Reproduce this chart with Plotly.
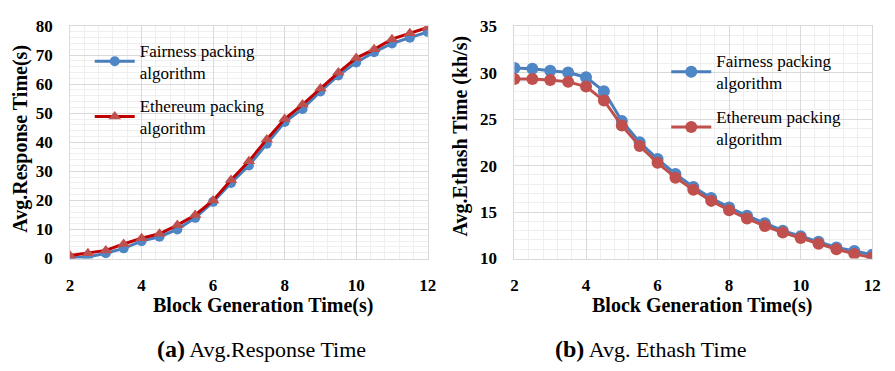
import plotly.graph_objects as go

x_vals = [2, 2.5, 3, 3.5, 4, 4.5, 5, 5.5, 6, 6.5, 7, 7.5, 8, 8.5, 9, 9.5, 10, 10.5, 11, 11.5, 12]

resp_fair = [0.3, 0.5, 1.8, 3.5, 6.0, 7.5, 10.0, 14.0, 19.5, 26.0, 32.0, 39.5, 47.0, 51.5, 57.5, 63.0, 67.5, 71.0, 74.0, 76.0, 78.0]
resp_eth = [1.0, 1.8, 2.8, 5.0, 7.0, 8.5, 11.5, 15.0, 20.0, 27.0, 33.5, 41.0, 48.0, 53.0, 58.5, 64.0, 69.0, 72.0, 75.5, 77.5, 79.5]

hash_fair = [30.5, 30.4, 30.2, 30.0, 29.5, 28.0, 24.8, 22.5, 20.7, 19.1, 17.7, 16.5, 15.5, 14.6, 13.8, 13.0, 12.4, 11.8, 11.2, 10.8, 10.4]
hash_eth = [29.3, 29.3, 29.2, 29.0, 28.5, 27.0, 24.3, 22.1, 20.3, 18.7, 17.4, 16.2, 15.2, 14.3, 13.5, 12.8, 12.2, 11.6, 11.0, 10.5, 10.1]

name_fair = "Fairness packing<br>algorithm"
name_eth = "Ethereum packing<br>algorithm"

BLUE_LINE = "#4A7EBB"
BLUE_MK = "#4F86C6"
DRED = "#C00000"
RED = "#C0504D"
FONT = "Liberation Serif, Times New Roman, serif"

fig = go.Figure()
fig.add_trace(go.Scatter(x=x_vals, y=resp_fair, name=name_fair, mode="lines+markers",
                         line=dict(color=BLUE_LINE, width=3),
                         marker=dict(symbol="circle", size=10, color=BLUE_MK),
                         xaxis="x", yaxis="y", legend="legend", legendgroup="a1"))
fig.add_trace(go.Scatter(x=x_vals, y=resp_eth, name=name_eth, mode="lines+markers",
                         line=dict(color=DRED, width=3),
                         marker=dict(symbol="triangle-up", size=11, color=RED),
                         xaxis="x", yaxis="y", legend="legend", legendgroup="a2"))
fig.add_trace(go.Scatter(x=x_vals, y=hash_fair, name=name_fair, mode="lines+markers",
                         line=dict(color=BLUE_LINE, width=3),
                         marker=dict(symbol="circle", size=12, color=BLUE_MK),
                         xaxis="x2", yaxis="y2", legend="legend2", legendgroup="b1"))
fig.add_trace(go.Scatter(x=x_vals, y=hash_eth, name=name_eth, mode="lines+markers",
                         line=dict(color=RED, width=3),
                         marker=dict(symbol="circle", size=12, color=RED),
                         xaxis="x2", yaxis="y2", legend="legend2", legendgroup="b2"))

W, H = 895, 371


def px(sx):
    return sx / W


def py(sy):
    return 1 - sy / H


tickfont = dict(family=FONT, size=17, color="black", weight="bold")

common_x = dict(range=[2, 12], tick0=2, dtick=2, showgrid=True, gridcolor="#d9d9d9", gridwidth=1,
                minor=dict(dtick=0.4, tick0=2, showgrid=True, gridcolor="#efefef", gridwidth=1),
                showline=True, linecolor="#d9d9d9", mirror=True, zeroline=False,
                tickfont=tickfont, ticks="", ticklabelstandoff=11)
common_y = dict(showgrid=True, gridcolor="#d9d9d9", gridwidth=1,
                showline=True, linecolor="#d9d9d9", mirror=True, zeroline=False,
                tickfont=tickfont, ticks="", ticklabelstandoff=13)

legfont = dict(family=FONT, size=17, color="black")
fig.update_layout(
    width=W, height=H, margin=dict(l=0, r=0, t=0, b=0),
    paper_bgcolor="white", plot_bgcolor="white",
    font=dict(family=FONT, color="black"),
    xaxis=dict(domain=[px(67), px(430)], anchor="y", **common_x),
    yaxis=dict(domain=[py(263), py(18)], anchor="x", range=[0, 80], tick0=0, dtick=10,
               minor=dict(dtick=2, showgrid=True, gridcolor="#efefef", gridwidth=1), **common_y),
    xaxis2=dict(domain=[px(518), px(881)], anchor="y2", **common_x),
    yaxis2=dict(domain=[py(263), py(18)], anchor="x2", range=[10, 35], tick0=10, dtick=5,
                minor=dict(dtick=1, showgrid=True, gridcolor="#efefef", gridwidth=1), **common_y),
    legend=dict(x=px(87), y=py(25), xanchor="left", yanchor="top", bgcolor="rgba(0,0,0,0)",
                font=legfont, tracegroupgap=8, itemwidth=40),
    legend2=dict(x=px(672), y=py(36), xanchor="left", yanchor="top", bgcolor="rgba(0,0,0,0)",
                 font=legfont, tracegroupgap=8, itemwidth=40),
    showlegend=True,
)

bold20 = dict(family=FONT, size=20, color="black", weight="bold")
annotations = [
    dict(text="Avg.Response Time(s)", x=px(17), y=py(137), textangle=-90, font=bold20),
    dict(text="Avg.Ethash Time (kh/s)", x=px(463), y=py(134), textangle=-90, font=bold20),
    dict(text="Block Generation Time(s)", x=px(263), y=py(312), font=bold20),
    dict(text="Block Generation Time(s)", x=px(708), y=py(312), font=bold20),
    dict(text="<b><span style='font-size:24px'>(a)</span></b> Avg.Response Time", x=px(261), y=py(358),
         font=dict(family=FONT, size=22, color="black")),
    dict(text="<b><span style='font-size:24px'>(b)</span></b> Avg. Ethash Time", x=px(657), y=py(358),
         font=dict(family=FONT, size=22, color="black")),
]
for a in annotations:
    a.update(xref="paper", yref="paper", showarrow=False, xanchor="center", yanchor="middle")
fig.update_layout(annotations=annotations)

fig.write_html("out.html")
